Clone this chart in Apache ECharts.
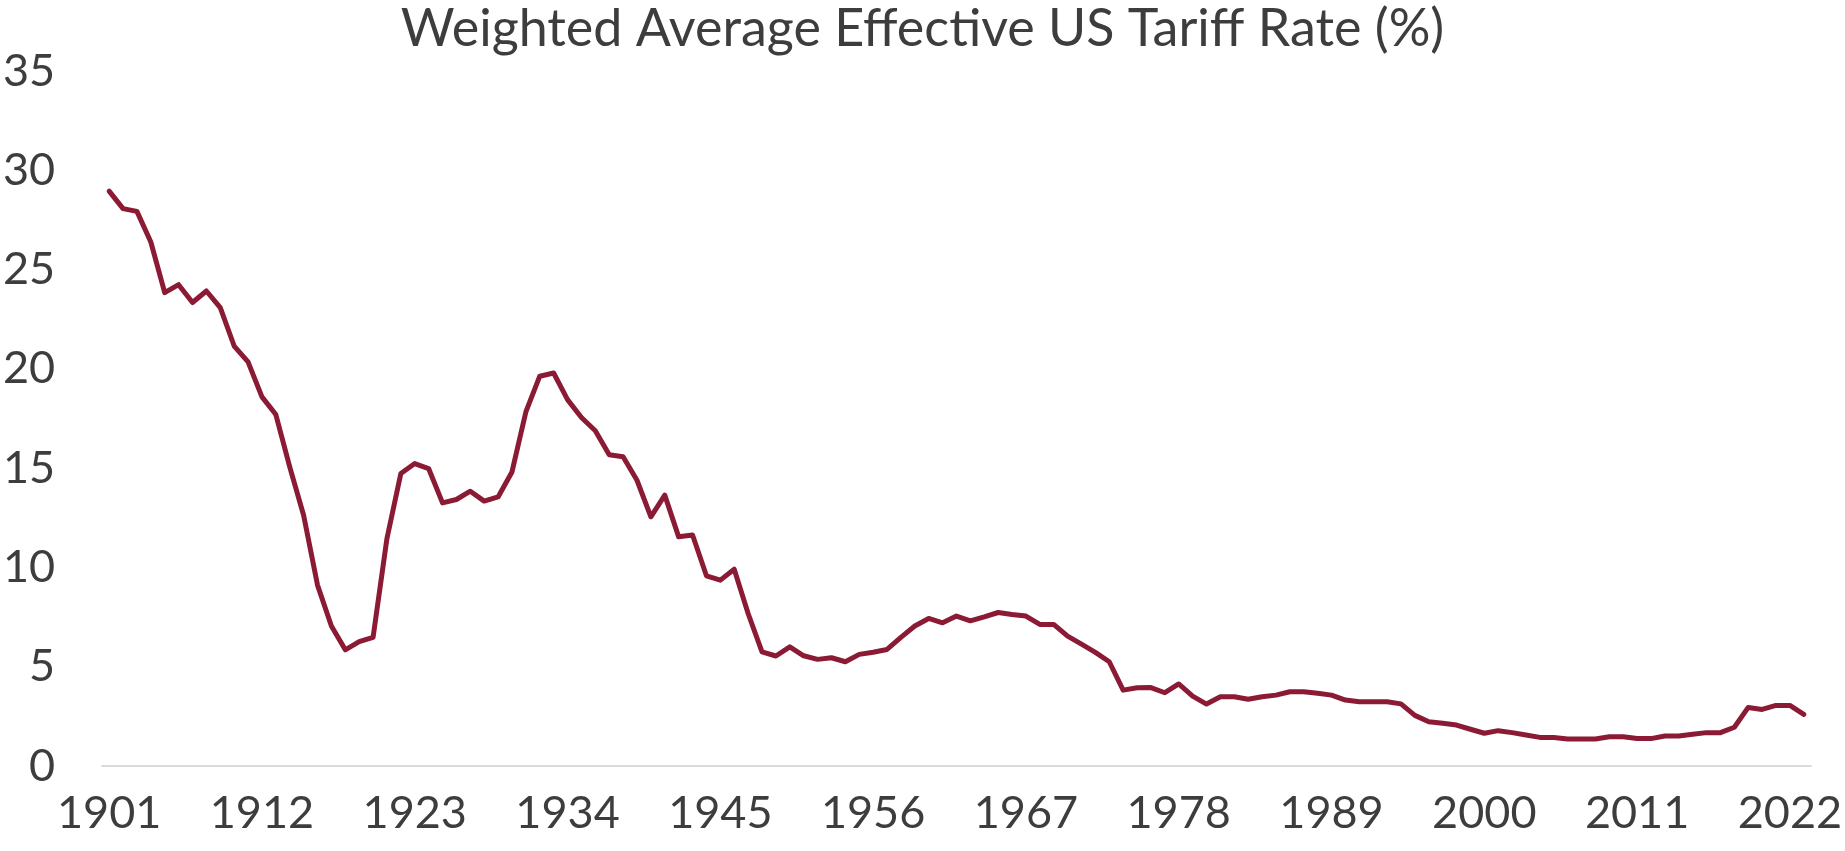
<!DOCTYPE html>
<html>
<head>
<meta charset="utf-8">
<title>Weighted Average Effective US Tariff Rate</title>
<script src="https://cdn.jsdelivr.net/npm/echarts@6/dist/echarts.min.js"></script>
<style>
  html, body { margin: 0; padding: 0; background: #fff; }
  #chart { width: 1845px; height: 851px; }
</style>
</head>
<body>
<div id="chart"></div>
<script>
// years 1901 .. 2023
const firstYear = 1901
const lastYear = 2023
const years = []
for (let y = firstYear; y <= lastYear; y++) years.push(String(y))

// effective tariff rate, %
const tariffRate = [
  28.95, 28.07, 27.93, 26.39, 23.84, 24.24, 23.34, 23.92, 23.08, 21.15, // 1901-1910
  20.35, 18.59, 17.70, 15.06, 12.63, 9.11, 7.05, 5.85, 6.26, 6.48,      // 1911-1920
  11.46, 14.73, 15.23, 14.98, 13.25, 13.42, 13.84, 13.34, 13.55, 14.81, // 1921-1930
  17.83, 19.63, 19.79, 18.45, 17.55, 16.88, 15.67, 15.57, 14.39, 12.55, // 1931-1940
  13.64, 11.54, 11.63, 9.58, 9.36, 9.91, 7.68, 5.75, 5.54, 6.00,        // 1941-1950
  5.55, 5.37, 5.45, 5.25, 5.62, 5.73, 5.87, 6.48, 7.05, 7.43,           // 1951-1960
  7.21, 7.55, 7.31, 7.51, 7.73, 7.63, 7.55, 7.13, 7.13, 6.54,           // 1961-1970
  6.14, 5.72, 5.25, 3.82, 3.94, 3.95, 3.69, 4.13, 3.52, 3.12,           // 1971-1980
  3.49, 3.49, 3.36, 3.49, 3.57, 3.74, 3.74, 3.66, 3.57, 3.32,           // 1981-1990
  3.24, 3.24, 3.24, 3.13, 2.55, 2.23, 2.15, 2.06, 1.85, 1.65,           // 1991-2000
  1.78, 1.68, 1.56, 1.44, 1.44, 1.36, 1.36, 1.36, 1.47, 1.47,           // 2001-2010
  1.38, 1.38, 1.51, 1.51, 1.60, 1.68, 1.68, 1.95, 2.95, 2.85,           // 2011-2020
  3.05, 3.05, 2.60                                                      // 2021-2023
]

// y axis ticks
const yMin = 0
const yMax = 35
const yStep = 5

const chart = echarts.init(document.getElementById('chart'), null, { renderer: 'canvas' })

const textColor = '#3d3d3d'
const fontFamily = 'Lato, "Open Sans", sans-serif'

const option = {
  backgroundColor: '#ffffff',
  animation: false,
  title: {
    text: 'Weighted Average Effective US Tariff Rate (%)',
    left: 'center',
    top: -2,
    textStyle: {
      color: textColor,
      fontFamily: fontFamily,
      fontSize: 52,
      fontWeight: 'normal'
    }
  },
  grid: {
    left: 96,
    right: 29,
    top: 71,
    bottom: 85,
    containLabel: false
  },
  xAxis: {
    type: 'category',
    data: years,
    boundaryGap: true,
    axisLine: { show: true, lineStyle: { color: '#d9d9d9', width: 2 } },
    axisTick: { show: false },
    splitLine: { show: false },
    axisLabel: {
      interval: 10,
      margin: 25,
      color: textColor,
      fontFamily: fontFamily,
      fontSize: 45
    }
  },
  yAxis: {
    type: 'value',
    min: yMin,
    max: yMax,
    interval: yStep,
    axisLine: { show: false },
    axisTick: { show: false },
    splitLine: { show: false },
    axisLabel: {
      margin: 47,
      color: textColor,
      fontFamily: fontFamily,
      fontSize: 45
    }
  },
  series: [
    {
      name: 'Tariff rate',
      type: 'line',
      data: tariffRate,
      showSymbol: false,
      symbol: 'none',
      lineStyle: {
        color: '#8b1a35',
        width: 5,
        cap: 'round',
        join: 'round'
      }
    }
  ]
}

chart.setOption(option)
</script>
</body>
</html>
